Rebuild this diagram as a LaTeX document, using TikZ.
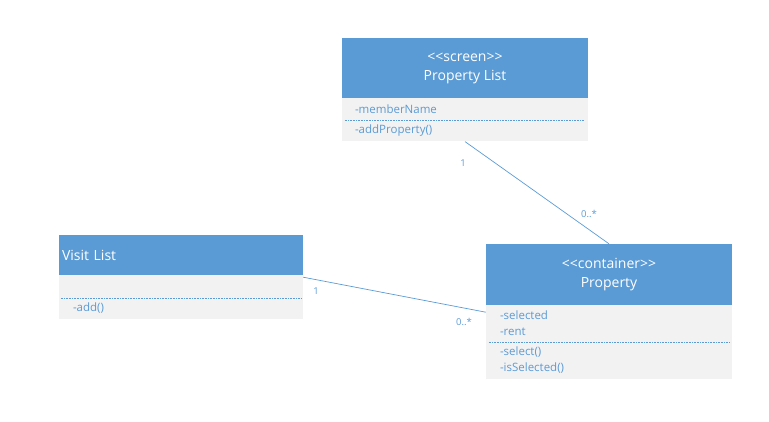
\documentclass[tikz,border=0pt]{standalone}
\usepackage{fontspec}
\setmainfont{Open Sans}
\usetikzlibrary{positioning}
\definecolor{umlblue}{HTML}{5B9BD5}
\definecolor{umlgray}{HTML}{F2F2F2}
\newcommand{\stereo}[1]{<\kern0pt<#1>\kern0pt>}
\tikzset {
  % class title block
  head/.style = {
    fill = umlblue,
    text = white,
    inner sep = 0,
    minimum width = 246pt,
    font = \fontsize{14}{19}\selectfont,
    align = center
  },
  % attributes and operations block
  body/.style = {
    fill = umlgray,
    inner sep = 0,
    minimum width = 246pt
  },
  member/.style = {
    text = umlblue,
    anchor = west,
    inner sep = 0,
    font = \fontsize{11.5}{12}\selectfont
  },
  sep/.style = {
    draw = umlblue,
    densely dotted,
    line width = 0.6pt
  },
  assoc/.style = {
    draw = umlblue,
    line width = 0.7pt
  },
  mult/.style = {
    text = umlblue,
    inner sep = 0,
    font = \fontsize{9.5}{10}\selectfont
  },
  node distance = 0pt
}
\begin{document}
\begin{tikzpicture}[x=1pt, y=-1pt]
    \useasboundingbox (0,0) rectangle (769,422);

    % Property List
    \node[head, minimum height = 60pt] (plisthead) at (465,68) {\stereo{screen}\\Property List};
    \node[body, minimum height = 43pt] (plistbody) [below=of plisthead] {};
    \node[member] (membername) at ([shift={(13,11)}]plistbody.north west) {-memberName};
    \node[member] (addproperty) at ([shift={(13,32)}]plistbody.north west) {-addProperty()};
    \draw[sep] ([shift={(3,22)}]plistbody.north west) -- ([shift={(-4,22)}]plistbody.north east);

    % Visit List
    \node[head, minimum width = 244pt, minimum height = 40pt, text width = 238pt, align = left] (visithead) at (181,255) {Visit List};
    \node[body, minimum width = 244pt, minimum height = 44pt] (visitbody) [below=of visithead] {};
    \node[member] (add) at ([shift={(14,33)}]visitbody.north west) {-add()};
    \draw[sep] ([shift={(2,23)}]visitbody.north west) -- ([shift={(-2,23)}]visitbody.north east);

    % Property
    \node[head, minimum height = 61pt] (prophead) at (609,274.5) {\stereo{container}\\Property};
    \node[body, minimum height = 74pt] (propbody) [below=of prophead] {};
    \node[member] (selected) at ([shift={(14,10)}]propbody.north west) {-selected};
    \node[member] (rent) at ([shift={(14,27)}]propbody.north west) {-rent};
    \node[member] (select) at ([shift={(14,47)}]propbody.north west) {-select()};
    \node[member] (isselected) at ([shift={(14,63)}]propbody.north west) {-isSelected()};
    \draw[sep] ([shift={(3,37)}]propbody.north west) -- ([shift={(-3,37)}]propbody.north east);

    % associations
    \draw[assoc] (plistbody.south) -- (prophead.north);
    \node[mult] (plistone) at (463,163) {1};
    \node[mult] (plistmany) at (589,214) {0..*};

    \draw[assoc] ([yshift=-2pt]visitbody.north east) -- ([yshift=-7pt]propbody.north west);
    \node[mult] (visitone) at (316,291) {1};
    \node[mult] (visitmany) at (464,322) {0..*};
  \end{tikzpicture}
\end{document}
